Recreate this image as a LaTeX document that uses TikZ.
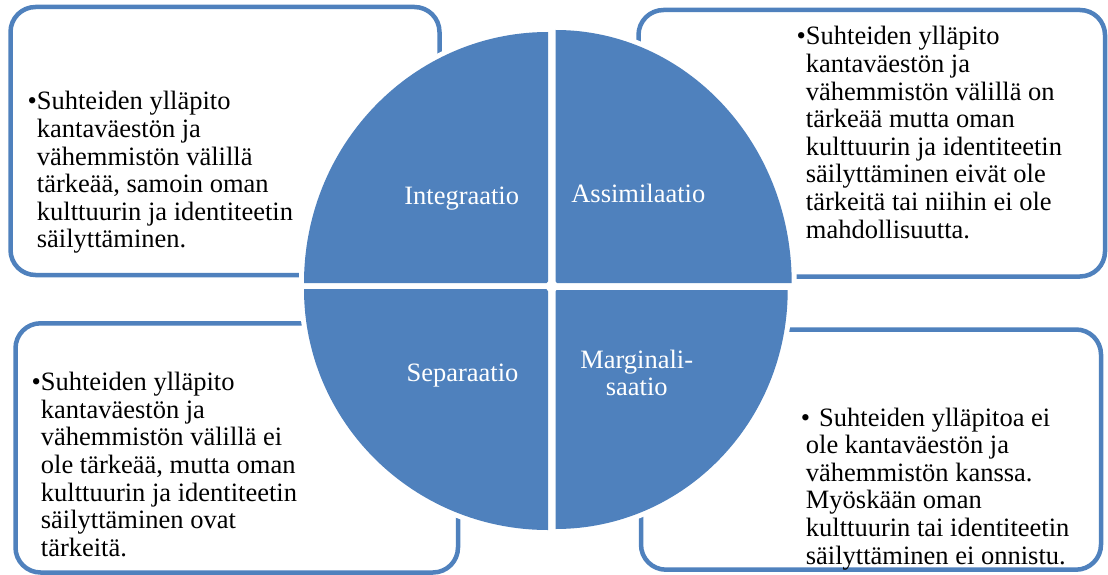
\documentclass[tikz,border=0pt]{standalone}
\usepackage{fontspec}
\setmainfont{Liberation Serif}
\definecolor{qblue}{RGB}{79,129,189}
\newcommand{\blk}[1]{\vtop{\fontsize{26.5pt}{27.6pt}\selectfont #1}}
\begin{document}
\begin{tikzpicture}[x=1pt,y=-1pt,
  tbox/.style={draw=qblue,line width=4.5pt,rounded corners=25pt,fill=white},
  halo/.style={draw=white,line width=10pt,line join=round},
  quad/.style={fill=qblue},
  txt/.style={anchor=base west,inner sep=0pt,text=black},
  lbl/.style={anchor=base,inner sep=0pt,text=white,font=\fontsize{26.5pt}{26.7pt}\selectfont}]
\useasboundingbox (0,0) rectangle (1108,575);
% text boxes
\draw[tbox] (10.5,7) rectangle (439.5,275);
\draw[tbox] (638.5,10) rectangle (1105,276.5);
\draw[tbox] (15.5,323.3) rectangle (458,572.5);
\draw[tbox] (641,329.5) rectangle (1101,569.7);
% white halos around quadrants
\draw[halo] (548,283) -- (304,283) arc[start angle=180,end angle=90,x radius=244pt,y radius=251pt] -- cycle;
\draw[halo] (555.7,283) -- (555.7,30) arc[start angle=90,end angle=0,x radius=236pt,y radius=253pt] -- cycle;
\draw[halo] (548,289) -- (304,289) arc[start angle=180,end angle=270,x radius=244pt,y radius=241pt] -- cycle;
\draw[halo] (555.7,290) -- (787.7,290) arc[start angle=0,end angle=-90,x radius=232pt,y radius=239pt] -- cycle;
% quadrants
\fill[quad] (548,283) -- (304,283) arc[start angle=180,end angle=90,x radius=244pt,y radius=251pt] -- cycle;
\fill[quad] (555.7,283) -- (555.7,30) arc[start angle=90,end angle=0,x radius=236pt,y radius=253pt] -- cycle;
\fill[quad] (548,289) -- (304,289) arc[start angle=180,end angle=270,x radius=244pt,y radius=241pt] -- cycle;
\fill[quad] (555.7,290) -- (787.7,290) arc[start angle=0,end angle=-90,x radius=232pt,y radius=239pt] -- cycle;
\fill[white] (551.8,286.3) circle[radius=6pt];
% labels
\node[lbl] (int) at (461.7,204.3) {Integraatio};
\node[lbl] (ass) at (638.3,202.3) {Assimilaatio};
\node[lbl] (sep) at (462.5,381) {Separaatio};
\node[lbl] (mar) at (636.7,368.3) {\vtop{\baselineskip=26.7pt\halign{\hfil#\hfil\cr Marginali-\cr saatio\cr}}};
% box texts
\node[txt] (ttl) at (36.7,110) {\blk{\hbox{\llap{•}Suhteiden ylläpito}
\hbox{kantaväestön ja}
\hbox{vähemmistön välillä}
\hbox{tärkeää, samoin oman}
\hbox{kulttuurin ja identiteetin}
\hbox{säilyttäminen.}}};
\node[txt] (ttr) at (805.7,45) {\blk{\hbox{\llap{•}Suhteiden ylläpito}
\hbox{kantaväestön ja}
\hbox{vähemmistön välillä on}
\hbox{tärkeää mutta oman}
\hbox{kulttuurin ja identiteetin}
\hbox{säilyttäminen eivät ole}
\hbox{tärkeitä tai niihin ei ole}
\hbox{mahdollisuutta.}}};
\node[txt] (tbl) at (40.7,390.7) {\blk{\hbox{\llap{•}Suhteiden ylläpito}
\hbox{kantaväestön ja}
\hbox{vähemmistön välillä ei}
\hbox{ole tärkeää, mutta oman}
\hbox{kulttuurin ja identiteetin}
\hbox{säilyttäminen ovat}
\hbox{tärkeitä.}}};
\node[txt] (tbr) at (805.7,426) {\blk{\hbox{\kern-5pt •\kern9pt Suhteiden ylläpitoa ei}
\hbox{ole kantaväestön ja}
\hbox{vähemmistön kanssa.}
\hbox{Myöskään oman}
\hbox{kulttuurin tai identiteetin}
\hbox{säilyttäminen ei onnistu.}}};
\end{tikzpicture}
\end{document}
